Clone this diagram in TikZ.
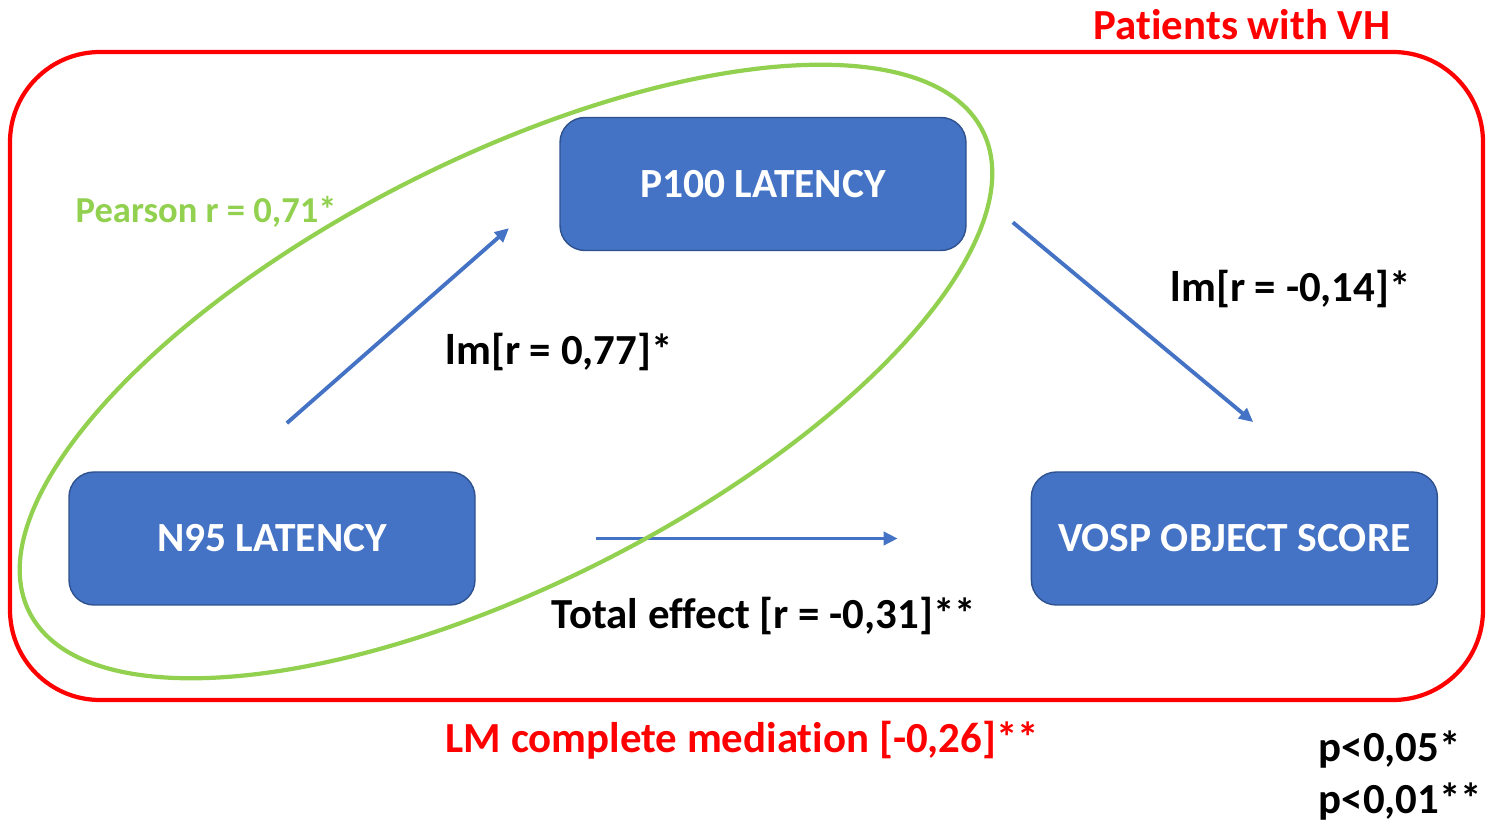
\documentclass[tikz,border=0pt]{standalone}
\usepackage{fontspec}
\setmainfont{Carlito}[Ligatures=NoCommon]
\usepackage{tikz}
\usetikzlibrary{arrows.meta,positioning}
\definecolor{boxblue}{RGB}{68,114,196}
\definecolor{boxedge}{RGB}{47,82,143}
\definecolor{framered}{RGB}{255,0,0}
\definecolor{ovalgreen}{RGB}{146,208,80}
\tikzset{
  block/.style={rectangle, rounded corners=0.25cm, draw=boxedge, thin, fill=boxblue,
                minimum width=4.06cm, minimum height=1.33cm, align=center,
                text=white, font=\fontsize{11.8}{14}\selectfont\bfseries},
  arrow/.style={-{Triangle[length=1.4mm, width=1.3mm]}, line width=1.1pt, boxblue},
  label/.style={inner sep=0pt, anchor=base west, font=\fontsize{12.2}{14}\selectfont\bfseries},
  redlabel/.style={label, text=framered},
}

\begin{document}
\begin{tikzpicture}
\useasboundingbox (0,0) rectangle (14.97,8.25);
% group frame
\draw[framered, line width=1.2pt, rounded corners=0.9cm] (0.10,1.25) rectangle (14.83,7.73);
\node[redlabel, anchor=base] (group) at (12.42,7.85) {Patients with VH};

\node[block] (n95) at (2.72,2.865) {N95 LATENCY};
\node[block] (p100) at (7.63,6.41) {P100 LATENCY};
\node[block, right=5.55cm of n95] (vosp) {VOSP OBJECT SCORE};

\draw[arrow, shorten <=0.73cm, shorten >=0.67cm] ([xshift=-0.4cm]n95.north) -- (p100.west);
\draw[arrow, shorten <=0.6cm, shorten >=0.77cm] (p100.east) -- ([xshift=0.78cm]vosp.north);
\draw[arrow, shorten <=1.2cm, shorten >=1.33cm] (n95.east) -- (vosp.west);

% correlation oval
\draw[ovalgreen, line width=1.2pt, rotate around={26.8:(5.06,4.535)}] (5.06,4.535) ellipse [x radius=5.34cm, y radius=2.13cm];

\node[label, text=ovalgreen, font=\fontsize{10.4}{12}\selectfont\bfseries] (pearson) at (0.75,6.02) {Pearson r = 0,71*};
\node[label] (lmleft) at (4.45,4.60) {lm[r = 0,77]*};
\node[label] (lmright) at (11.70,5.23) {lm[r = -0,14]*};
\node[label] (total) at (5.51,1.96) {Total effect [r = -0,31]**};
\node[redlabel] (mediation) at (4.45,0.72) {LM complete mediation [-0,26]**};
\node[label] (pfive) at (13.18,0.63) {p<0,05*};
\node[label] (pone) at (13.18,0.12) {p<0,01**};
\end{tikzpicture}
\end{document}
